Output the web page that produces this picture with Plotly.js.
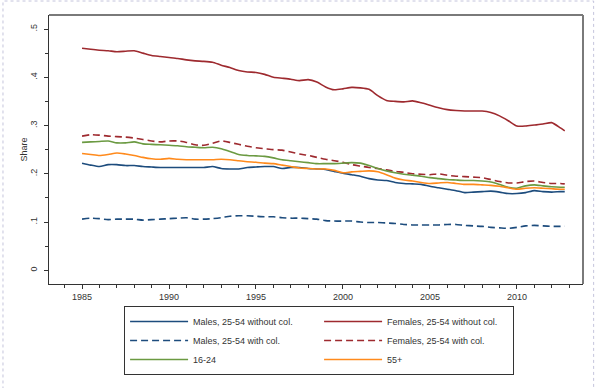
<!DOCTYPE html>
<html>
<head>
<meta charset="utf-8">
<script src="https://cdn.plot.ly/plotly-3.0.1.min.js"></script>
<style>html,body{margin:0;padding:0;background:#fff;}#chart{width:600px;height:388px;}</style>
</head>
<body>
<div id="chart"></div>
<script>
var years = [1985,1985.5,1986,1986.5,1987,1987.5,1988,1988.5,1989,1989.5,1990,1990.5,1991,1991.5,1992,1992.5,1993,1993.5,1994,1994.5,1995,1995.5,1996,1996.5,1997,1997.5,1998,1998.5,1999,1999.5,2000,2000.5,2001,2001.5,2002,2002.5,2003,2003.5,2004,2004.5,2005,2005.5,2006,2006.5,2007,2007.5,2008,2008.5,2009,2009.5,2010,2010.5,2011,2011.5,2012,2012.5,2012.75];

var malesNoCol = [.222,.218,.215,.219,.219,.217,.217,.215,.214,.213,.213,.213,.213,.213,.213,.215,.211,.210,.210,.213,.214,.215,.215,.211,.213,.213,.211,.210,.209,.205,.201,.198,.195,.190,.187,.186,.182,.180,.179,.178,.174,.171,.168,.165,.161,.162,.163,.164,.162,.159,.159,.161,.165,.163,.162,.163,.163];

var femalesNoCol = [.460,.458,.456,.455,.453,.454,.455,.450,.445,.443,.441,.439,.436,.434,.433,.431,.425,.420,.414,.411,.410,.406,.400,.398,.396,.393,.395,.390,.380,.374,.376,.379,.378,.375,.362,.352,.350,.349,.351,.347,.342,.337,.333,.331,.330,.330,.330,.327,.320,.310,.299,.299,.301,.303,.306,.295,.289];

var malesCol = [.106,.108,.107,.105,.106,.106,.106,.104,.105,.106,.107,.108,.109,.106,.106,.107,.109,.112,.113,.113,.112,.111,.111,.109,.108,.108,.107,.106,.103,.102,.102,.102,.100,.099,.099,.098,.097,.095,.094,.094,.094,.094,.095,.095,.093,.092,.091,.089,.088,.087,.089,.092,.093,.092,.091,.091,.091];

var femalesCol = [.278,.281,.280,.278,.277,.276,.274,.271,.268,.266,.268,.268,.265,.260,.259,.263,.268,.265,.261,.257,.254,.252,.250,.249,.245,.241,.238,.234,.230,.227,.224,.219,.216,.213,.211,.208,.205,.203,.200,.199,.198,.200,.197,.195,.194,.193,.192,.188,.184,.181,.181,.184,.185,.182,.180,.180,.179];

var age1624 = [.265,.266,.267,.268,.264,.264,.266,.262,.261,.260,.259,.258,.256,.255,.254,.255,.252,.246,.240,.238,.237,.236,.233,.229,.227,.225,.223,.221,.221,.221,.222,.223,.222,.217,.211,.206,.202,.199,.197,.195,.192,.190,.188,.187,.186,.186,.185,.183,.178,.172,.170,.175,.177,.175,.173,.172,.172];

var age55 = [.242,.240,.238,.240,.243,.241,.238,.234,.231,.230,.232,.230,.229,.229,.229,.229,.230,.229,.227,.225,.224,.222,.221,.218,.215,.212,.211,.210,.210,.207,.202,.204,.205,.206,.204,.198,.191,.187,.185,.182,.180,.181,.182,.180,.178,.178,.177,.176,.174,.171,.168,.170,.171,.170,.169,.168,.168];

var seriesNames = ['Males, 25-54 without col.','Females, 25-54 without col.','Males, 25-54 with col.','Females, 25-54 with col.','16-24','55+'];
var xTickVals = [1985,1990,1995,2000,2005,2010];
var yTickVals = [0,.1,.2,.3,.4,.5];
var yTickText = ['0','.1','.2','.3','.4','.5'];
var yTitle = 'Share';

var cBlue = '#1d4c7d', cRed = '#9e2a2f', cGreen = '#6b9a42', cOrange = '#ff8a1c';
var dashPat = '7px,4px';

function tr(y, name, color, dash) {
  return {x: years, y: y, name: name, type: 'scatter', mode: 'lines',
    line: {color: color, width: 1.6, dash: dash || 'solid', shape: 'spline', smoothing: 0.6}};
}
var data = [
  tr(malesNoCol, seriesNames[0], cBlue),
  tr(femalesNoCol, seriesNames[1], cRed),
  tr(malesCol, seriesNames[2], cBlue, dashPat),
  tr(femalesCol, seriesNames[3], cRed, dashPat),
  tr(age1624, seriesNames[4], cGreen),
  tr(age55, seriesNames[5], cOrange)
];

var font = {family: 'Liberation Sans, Arial, sans-serif', size: 9, color: '#333'};
var layout = {
  width: 600, height: 388,
  margin: {l: 49, r: 17, t: 15, b: 104, autoexpand: false},
  paper_bgcolor: '#fff', plot_bgcolor: '#fff',
  font: font,
  showlegend: true,
  xaxis: {
    range: [1983.1, 2013.8], tickvals: xTickVals, ticks: 'outside', ticklen: 4, tickcolor: '#333',
    showgrid: false, zeroline: false, showline: true, linecolor: '#333', linewidth: 1,
    minor: {dtick: 1, ticks: 'outside', ticklen: 3, tickcolor: '#333', showgrid: false},
    tickfont: font
  },
  yaxis: {
    range: [-0.0284, 0.529], tickvals: yTickVals, ticktext: yTickText, tickangle: -90,
    ticks: 'outside', ticklen: 4, tickcolor: '#333', ticklabelstandoff: 3,
    showgrid: false, zeroline: false, showline: true, linecolor: '#333', linewidth: 1,
    minor: {dtick: 0.05, ticks: 'outside', ticklen: 3, tickcolor: '#333', showgrid: false},
    title: {text: yTitle, font: font, standoff: 0},
    tickfont: font
  },
  legend: {
    orientation: 'h', x: 0.1406, xanchor: 'left', y: -0.082, yanchor: 'top',
    entrywidth: 121, entrywidthmode: 'pixels', itemwidth: 58,
    bordercolor: '#333', borderwidth: 1, bgcolor: '#fff',
    font: font, traceorder: 'normal'
  },
  shapes: [
    {type: 'line', xref: 'paper', yref: 'paper', x0: 0, x1: 1, y0: 1, y1: 1, line: {color: '#7a7a7a', width: 2}},
    {type: 'line', xref: 'paper', yref: 'paper', x0: 1, x1: 1, y0: 0, y1: 1, line: {color: '#7a7a7a', width: 2}},
    {type: 'rect', xref: 'paper', yref: 'paper', x0: -0.0862, x1: 1.0199, y0: -0.395, y1: 1.052,
     line: {color: '#c4c4dc', width: 1, dash: 'dot'}}
  ]
};
Plotly.newPlot('chart', data, layout, {staticPlot: true, displayModeBar: false});
</script>
</body>
</html>
